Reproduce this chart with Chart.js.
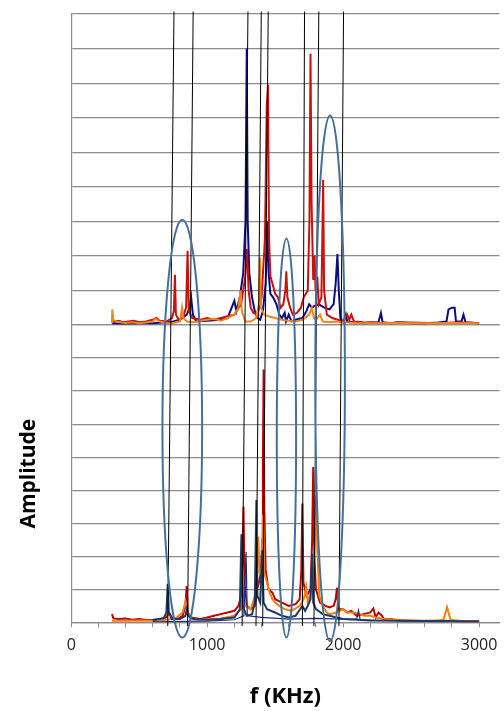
<!DOCTYPE html>
<html>
<head>
<meta charset="utf-8">
<script src="https://cdn.jsdelivr.net/npm/chart.js@4.4.1/dist/chart.umd.min.js"></script>
<style>
  body { margin: 0; background: #fff; }
  #wrap { width: 504px; height: 711px; }
</style>
</head>
<body>
<div id="wrap"><canvas id="myChart"></canvas></div>
<script>
// spectra, [f (kHz), amplitude in grid units]
var topNavy = [[300,0.05],[400,0.04],[500,0.06],[600,0.05],[700,0.08],[750,0.1],[800,0.15],[850,0.3],[870,0.5],[882,0.8],[895,0.3],[920,0.1],[1000,0.12],[1100,0.15],[1150,0.2],[1180,0.5],[1200,0.7],[1215,0.4],[1240,0.8],[1265,1.5],[1282,3.0],[1291,8.0],[1298,3.0],[1310,1.5],[1330,0.8],[1350,0.4],[1370,0.2],[1390,0.15],[1410,0.4],[1430,1.2],[1444,3.0],[1452,1.5],[1465,0.9],[1485,0.8],[1510,0.6],[1530,0.3],[1550,0.2],[1570,0.35],[1580,0.1],[1600,0.3],[1620,0.1],[1650,0.15],[1700,0.2],[1730,0.4],[1750,0.6],[1770,0.5],[1790,0.55],[1820,0.6],[1860,0.5],[1900,0.45],[1930,0.6],[1945,1.2],[1958,2.05],[1968,1.0],[1980,0.2],[2000,0.08],[2020,0.3],[2030,0.1],[2080,0.08],[2150,0.05],[2200,0.07],[2260,0.08],[2278,0.35],[2290,0.08],[2350,0.05],[2400,0.08],[2450,0.07],[2500,0.05],[2600,0.05],[2700,0.07],[2760,0.1],[2775,0.45],[2800,0.5],[2820,0.5],[2830,0.1],[2870,0.1],[2885,0.3],[2900,0.08],[3000,0.05]];
var topRed = [[300,0.15],[320,0.1],[350,0.12],[380,0.08],[420,0.1],[460,0.12],[500,0.08],[550,0.1],[600,0.15],[625,0.2],[650,0.12],[700,0.1],[740,0.2],[755,0.4],[763,1.45],[770,0.3],[790,0.15],[820,0.2],[845,0.5],[856,2.15],[865,0.4],[890,0.2],[950,0.15],[1000,0.2],[1050,0.15],[1100,0.2],[1150,0.25],[1200,0.3],[1250,0.6],[1280,1.4],[1292,2.2],[1305,1.0],[1320,0.5],[1340,0.35],[1370,0.3],[1400,0.8],[1425,2.5],[1438,6.3],[1447,6.95],[1455,2.5],[1465,1.4],[1480,1.2],[1500,0.9],[1520,0.8],[1540,0.5],[1560,0.6],[1575,1.0],[1582,1.55],[1590,0.8],[1610,0.5],[1630,0.3],[1660,0.35],[1690,0.5],[1710,0.8],[1740,1.0],[1752,3.0],[1760,7.85],[1768,3.5],[1780,1.3],[1790,2.0],[1797,1.0],[1810,1.4],[1820,0.6],[1840,0.8],[1847,2.5],[1853,4.2],[1860,1.0],[1880,0.3],[1920,0.2],[1960,0.15],[2000,0.1],[2030,0.3],[2045,0.15],[2060,0.3],[2080,0.1],[2150,0.08],[2300,0.06],[2500,0.07],[2700,0.05],[2850,0.08],[3000,0.05]];
var topOrange = [[300,0.05],[302,0.45],[310,0.15],[330,0.1],[360,0.08],[400,0.06],[450,0.08],[500,0.05],[550,0.07],[600,0.1],[620,0.18],[650,0.1],[700,0.05],[750,0.06],[800,0.1],[815,0.5],[825,0.2],[850,0.1],[900,0.08],[950,0.12],[1000,0.15],[1050,0.18],[1100,0.12],[1150,0.2],[1200,0.3],[1230,0.5],[1245,1.0],[1255,0.4],[1280,0.1],[1320,0.1],[1360,0.2],[1380,0.6],[1388,1.95],[1395,0.5],[1420,0.3],[1450,0.25],[1500,0.2],[1550,0.15],[1600,0.12],[1650,0.1],[1700,0.15],[1750,0.3],[1770,0.5],[1785,0.2],[1800,0.15],[1830,0.3],[1850,0.1],[1900,0.08],[1950,0.1],[2000,0.08],[2100,0.06],[2200,0.05],[2400,0.06],[2600,0.05],[2800,0.06],[3000,0.05]];

var botRed = [[300,0.25],[310,0.12],[350,0.1],[400,0.12],[450,0.08],[500,0.1],[550,0.07],[600,0.08],[650,0.1],[700,0.15],[720,0.3],[740,0.15],[780,0.1],[820,0.2],[840,0.5],[849,1.1],[858,0.3],[880,0.15],[950,0.1],[1000,0.15],[1050,0.2],[1100,0.25],[1150,0.3],[1200,0.35],[1230,0.5],[1250,0.8],[1260,2.0],[1267,3.5],[1275,1.2],[1290,0.5],[1320,0.4],[1350,0.5],[1365,1.0],[1380,1.2],[1395,1.5],[1405,2.5],[1410,4.8],[1415,7.65],[1420,3.5],[1430,1.6],[1450,1.0],[1480,0.9],[1500,0.7],[1550,0.6],[1600,0.5],[1650,0.55],[1680,0.7],[1692,1.5],[1700,3.6],[1708,1.2],[1730,0.8],[1760,1.0],[1772,2.5],[1780,4.7],[1788,2.0],[1800,1.0],[1830,0.6],[1870,0.5],[1900,0.45],[1930,0.5],[1945,0.7],[1955,1.05],[1965,0.4],[2000,0.4],[2030,0.3],[2060,0.35],[2100,0.2],[2150,0.25],[2200,0.3],[2222,0.42],[2240,0.15],[2260,0.3],[2282,0.22],[2300,0.1],[2350,0.1],[2400,0.06],[2500,0.05],[2600,0.04],[2700,0.05],[2800,0.04],[2900,0.03],[3000,0.03]];
var botOrange = [[300,0.05],[400,0.05],[500,0.06],[600,0.05],[700,0.08],[760,0.1],[820,0.3],[840,0.63],[855,0.3],[880,0.1],[950,0.08],[1000,0.1],[1100,0.12],[1200,0.2],[1250,0.4],[1265,1.0],[1280,0.5],[1320,0.4],[1360,0.9],[1376,2.6],[1385,1.5],[1400,1.5],[1410,3.25],[1420,1.5],[1440,1.2],[1460,0.9],[1480,0.7],[1500,0.6],[1530,0.5],[1570,0.4],[1620,0.35],[1680,0.5],[1710,0.7],[1729,1.07],[1740,0.6],[1770,1.0],[1790,2.0],[1802,3.85],[1810,2.2],[1825,0.8],[1850,0.5],[1880,0.3],[1900,0.25],[1950,0.3],[2000,0.4],[2030,0.3],[2080,0.3],[2120,0.25],[2160,0.2],[2200,0.2],[2240,0.15],[2300,0.1],[2400,0.08],[2500,0.05],[2600,0.05],[2700,0.05],[2740,0.1],[2764,0.46],[2790,0.08],[2850,0.05],[3000,0.03]];
var botSlate = [[600,0.05],[640,0.1],[680,0.12],[700,0.3],[710,1.17],[718,0.3],[740,0.1],[800,0.1],[840,0.2],[850,0.4],[860,0.2],[900,0.1],[1000,0.08],[1100,0.1],[1200,0.15],[1240,0.4],[1252,2.67],[1262,0.5],[1290,0.2],[1330,0.25],[1350,0.6],[1362,3.7],[1370,0.8],[1390,0.6],[1405,2.18],[1415,0.6],[1440,0.4],[1500,0.3],[1550,0.2],[1600,0.15],[1650,0.2],[1700,0.5],[1720,0.35],[1740,0.5],[1760,0.7],[1772,2.08],[1780,0.6],[1800,0.4],[1850,0.25],[1900,0.2],[1950,0.15],[2000,0.1],[2100,0.08],[2200,0.06],[2400,0.05],[3000,0.03]];
var botNavy = [[600,0.02],[1000,0.04],[1200,0.08],[1270,0.2],[1286,2.13],[1295,0.2],[1400,0.15],[1600,0.1],[1800,0.12],[2000,0.1],[2100,0.1],[2113,0.36],[2125,0.08],[2400,0.05],[3000,0.03]];

// slanted reference lines: frequency at the top and at the bottom of the plot
var markTopF = [756, 897, 1300, 1398, 1449, 1716, 1821, 2003];
var markBotF = [710, 856, 1257, 1359, 1408, 1700, 1785, 1969];

// ellipses: centre f, half width f, top and bottom as fraction of the full plot height
var ellCenter = [817, 1583, 1904];
var ellHalfW = [146, 71, 109];
var ellTop = [0.662, 0.631, 0.833];
var ellBottom = [-0.025, -0.025, -0.031];

var xTicks = [0, 1000, 2000, 3000];

function pts(arr) {
  return arr.map(function (p) { return { x: p[0], y: p[1] }; });
}

var markData = [];
for (var i = 0; i < markTopF.length; i++) {
  markData.push({ x: markTopF[i], y: 1.004 });
  markData.push({ x: markBotF[i], y: -0.006 });
  markData.push({ x: markBotF[i], y: null });
}

function line(data, color, axis, width) {
  return {
    data: pts(data),
    borderColor: color,
    borderWidth: width || 2,
    pointRadius: 0,
    tension: 0,
    yAxisID: axis,
  };
}

var ellipsePlugin = {
  id: "ellipses",
  afterDatasetsDraw: function (chart) {
    var ctx = chart.ctx;
    var x = chart.scales.x;
    var y = chart.scales.yAll;
    ctx.save();
    ctx.strokeStyle = "#44709b";
    ctx.lineWidth = 2;
    for (var i = 0; i < ellCenter.length; i++) {
      var cx = x.getPixelForValue(ellCenter[i]);
      var rx = x.getPixelForValue(ellCenter[i] + ellHalfW[i]) - cx;
      var t = y.getPixelForValue(ellTop[i]);
      var b = y.getPixelForValue(ellBottom[i]);
      ctx.beginPath();
      ctx.ellipse(cx, (t + b) / 2, rx, (b - t) / 2, 0, 0, Math.PI * 2);
      ctx.stroke();
    }
    ctx.restore();
  },
};

var gridColor = "#8c8c8c";

new Chart("myChart", {
  type: "line",
  data: {
    datasets: [
      {
        data: markData,
        borderColor: "#000",
        borderWidth: 1,
        pointRadius: 0,
        spanGaps: false,
        yAxisID: "yAll",
        clip: false,
      },
      line(topOrange, "#f0861c", "yTop"),
      line(topRed, "#cc1010", "yTop"),
      line(topNavy, "#0c0c80", "yTop"),
      line(botSlate, "#1f3b63", "yBot"),
      line(botNavy, "#1c2a8a", "yBot", 1.2),
      line(botOrange, "#f08012", "yBot"),
      line(botRed, "#c00000", "yBot"),
    ],
  },
  options: {
    responsive: true,
    maintainAspectRatio: false,
    animation: false,
    layout: { padding: { left: 12, top: 14, right: -14, bottom: 0 } },
    plugins: {
      legend: { display: false },
      tooltip: { enabled: false },
    },
    scales: {
      x: {
        type: "linear",
        min: 0,
        max: 3150,
        afterBuildTicks: function (axis) {
          var t = [];
          for (var v = 0; v <= 3000; v += 200) t.push({ value: v });
          axis.ticks = t;
        },
        ticks: {
          autoSkip: false,
          maxRotation: 0,
          padding: 8,
          color: "#222",
          font: { family: "Open Sans", size: 16 },
          callback: function (v) {
            return xTicks.indexOf(v) >= 0 ? String(v) : "";
          },
        },
        grid: {
          drawOnChartArea: false,
          drawTicks: true,
          tickLength: 5,
          color: gridColor,
        },
        border: { color: gridColor, width: 1.2 },
        title: {
          display: true,
          text: "f (KHz)",
          color: "#000",
          font: { family: "Open Sans", size: 22, weight: "bold" },
          padding: { top: 21, bottom: 1 },
        },
      },
      yBot: {
        type: "linear",
        position: "left",
        stack: "amp",
        stackWeight: 297,
        min: 0,
        max: 9,
        ticks: { display: false, stepSize: 1 },
        grid: { color: gridColor, lineWidth: 1.2, drawTicks: false },
        border: { color: gridColor, width: 1.2 },
        title: {
          display: true,
          text: "Amplitude",
          color: "#000",
          font: { family: "Open Sans", size: 21, weight: "bold" },
          padding: { top: 4, bottom: 30 },
        },
      },
      yTop: {
        type: "linear",
        position: "left",
        stack: "amp",
        stackWeight: 310.5,
        min: 0,
        max: 9,
        ticks: { display: false, stepSize: 1 },
        grid: { color: gridColor, lineWidth: 1.2, drawTicks: false },
        border: { color: gridColor, width: 1.2 },
      },
      yAll: {
        type: "linear",
        display: false,
        min: 0,
        max: 1,
      },
    },
  },
  plugins: [ellipsePlugin],
});
</script>
</body>
</html>
